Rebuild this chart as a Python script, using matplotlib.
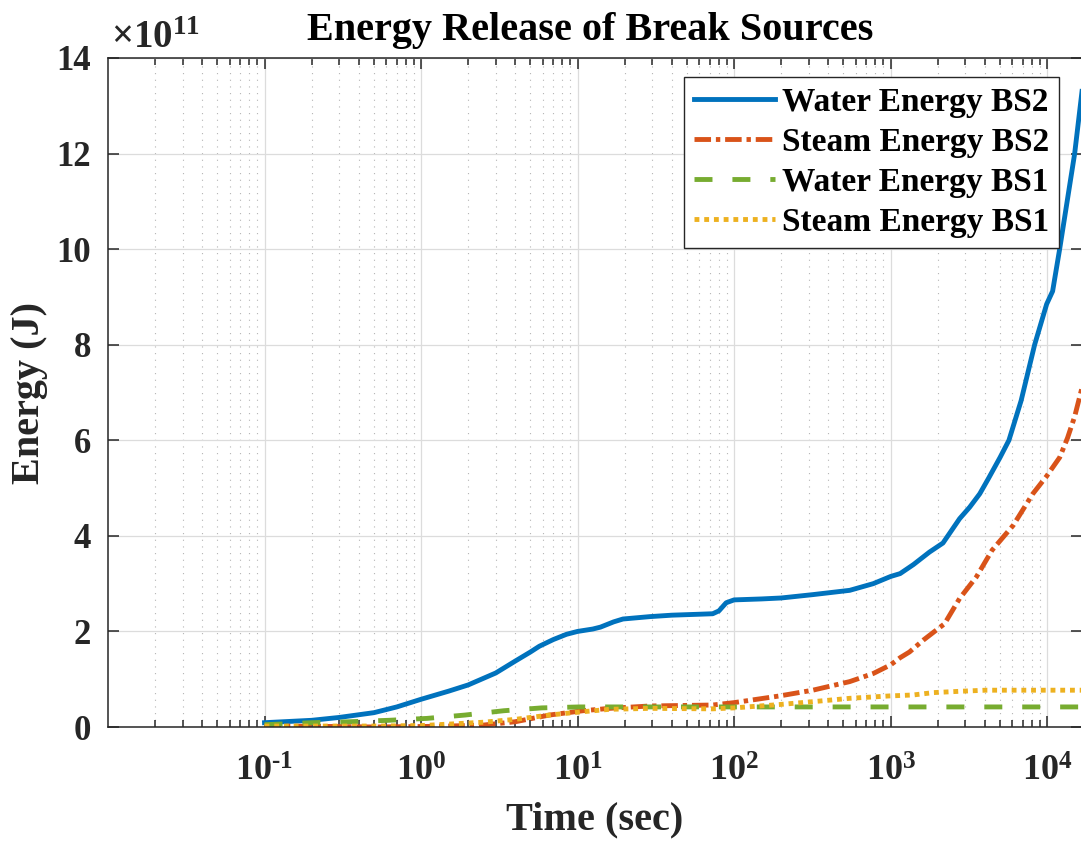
import numpy as np
import matplotlib
matplotlib.use("Agg")
import matplotlib.pyplot as plt
from matplotlib.ticker import FixedLocator, FuncFormatter, NullFormatter

# Energy released by the break sources (energy in units of 1e11 J, time in s)
t_water_bs2 = [0.1, 0.2, 0.3, 0.5, 0.7, 1.0, 1.5, 2.0, 3.0, 4.0, 5.0, 5.7, 7.0, 8.5,
               10, 12.5, 14, 17, 19.5, 29, 40, 60, 73, 80, 89, 100, 150, 200, 318,
               548, 775, 1000, 1150, 1400, 1770, 2160, 2760, 3200, 3710, 4200, 5000,
               5700, 6820, 8320, 9930, 10840, 12020, 14990, 16700]
e_water_bs2 = [0.09, 0.14, 0.20, 0.30, 0.42, 0.58, 0.75, 0.88, 1.13, 1.38, 1.57, 1.69,
               1.83, 1.94, 2.00, 2.05, 2.09, 2.20, 2.26, 2.31, 2.34, 2.36, 2.37, 2.43,
               2.60, 2.66, 2.68, 2.70, 2.77, 2.86, 3.00, 3.15, 3.21, 3.40, 3.66, 3.85,
               4.36, 4.60, 4.88, 5.19, 5.64, 6.00, 6.83, 8.00, 8.85, 9.12, 10.0, 12.0,
               13.3]

t_steam_bs2 = [0.1, 0.3, 0.5, 1.0, 1.5, 2.5, 4.0, 6.6, 10.8, 16, 29, 73, 100, 195, 318,
               548, 775, 1000, 1150, 1320, 1620, 2210, 2760, 3530, 4450, 6070, 8100,
               9930, 10840, 12020, 13500, 15000, 16700]
e_steam_bs2 = [0.02, 0.01, 0.0, 0.01, 0.02, 0.04, 0.11, 0.25, 0.34, 0.39, 0.44, 0.46,
               0.51, 0.65, 0.77, 0.95, 1.12, 1.30, 1.45, 1.57, 1.82, 2.16, 2.69, 3.14,
               3.70, 4.22, 4.88, 5.25, 5.43, 5.64, 6.05, 6.50, 7.10]

t_water_bs1 = [0.1, 0.114, 0.2, 0.35, 0.62, 1.09, 1.91, 3.37, 5.9, 10.3, 100, 1000, 16700]
e_water_bs1 = [0.05, 0.055, 0.09, 0.11, 0.14, 0.18, 0.25, 0.34, 0.40, 0.42, 0.42, 0.42,
               0.42]

t_steam_bs1 = [0.1, 0.5, 1.0, 1.5, 2.5, 4.0, 6.6, 10.8, 16, 29, 73, 100, 195, 318, 548,
               980, 1390, 1880, 2890, 4040, 16700]
e_steam_bs1 = [0.02, 0.02, 0.03, 0.06, 0.10, 0.16, 0.25, 0.32, 0.37, 0.39, 0.38, 0.40,
               0.47, 0.53, 0.60, 0.65, 0.67, 0.72, 0.75, 0.77, 0.77]

labels = ["Water Energy BS2", "Steam Energy BS2", "Water Energy BS1", "Steam Energy BS1"]
colors = ["#0072BD", "#D95319", "#77AC30", "#EDB120"]

x_major = [1e-1, 1e0, 1e1, 1e2, 1e3, 1e4]
y_major = [0, 2, 4, 6, 8, 10, 12, 14]

plt.rcParams.update({
    "font.family": "Liberation Serif",
    "font.weight": "bold",
    "mathtext.fontset": "custom",
    "mathtext.rm": "Liberation Serif:bold",
    "mathtext.it": "Liberation Serif:italic:bold",
    "mathtext.bf": "Liberation Serif:bold",
    "axes.unicode_minus": False,
})

W, H = 1081, 843
fig = plt.figure(figsize=(W / 100, H / 100), dpi=100)
left, right, top, bottom = 108, 1082, 58, 727
ax = fig.add_axes([left / W, 1 - bottom / H, (right - left) / W, (bottom - top) / H])

lw = 3.5
ax.plot(t_water_bs2, e_water_bs2, color=colors[0], lw=lw, ls="-", label=labels[0],
        solid_joinstyle="round")
ax.plot(t_steam_bs2, e_steam_bs2, color=colors[1], lw=lw, ls=(0, (3.4, 1.0, 0.9, 1.0)),
        label=labels[1])
ax.plot(t_water_bs1, e_water_bs1, color=colors[2], lw=lw, ls=(0, (3.7, 4.1)),
        label=labels[2])
ax.plot(t_steam_bs1, e_steam_bs1, color=colors[3], lw=lw, ls=(0, (1.0, 1.0)),
        label=labels[3])

ax.set_xscale("log")
ax.set_xlim(1e-2, 1.67e4)
ax.set_ylim(0, 14)

ax.xaxis.set_major_locator(FixedLocator(x_major))
minor = [k * 10.0 ** d for d in range(-2, 5) for k in range(2, 10)]
ax.xaxis.set_minor_locator(FixedLocator(minor))
ax.xaxis.set_minor_formatter(NullFormatter())


def dec_label(v, pos):
    p = int(round(np.log10(v)))
    if p < 0:
        return r"$\mathdefault{10^{\text{-}%d}}$" % (-p)
    return r"$\mathdefault{10^{%d}}$" % p


ax.xaxis.set_major_formatter(FuncFormatter(dec_label))
ax.yaxis.set_major_locator(FixedLocator(y_major))
ax.yaxis.set_major_formatter(FuncFormatter(lambda v, p: "%d" % v))

ax.tick_params(which="both", direction="in", top=True, right=True,
               color="#262626", width=1.1, labelcolor="#262626")
ax.tick_params(axis="y", labelsize=25)
ax.tick_params(axis="x", labelsize=26)
ax.tick_params(which="major", length=8)
ax.tick_params(which="minor", length=5)
ax.tick_params(axis="x", which="major", pad=21)
ax.tick_params(axis="y", which="major", pad=12)

for s in ax.spines.values():
    s.set_color("#262626")
    s.set_linewidth(1.1)

ax.set_axisbelow(True)
ax.grid(which="major", color="#dcdcdc", lw=0.9, ls="-")
ax.grid(which="minor", axis="x", color="#b4b4b4", lw=0.8, ls=(0, (1, 5)))

ax.set_xlabel("Time (sec)", fontsize=29, fontweight="bold", color="#262626",
              va="baseline")
ax.xaxis.set_label_coords(0.5, (bottom - 829) / (bottom - top))
ax.set_ylabel("Energy (J)", fontsize=29, fontweight="bold", color="#262626",
              va="center")
ax.yaxis.set_label_coords((30 - left) / (right - left), 0.5)

ax.text(0.495, (bottom - 40) / (bottom - top), "Energy Release of Break Sources",
        transform=ax.transAxes, ha="center", va="baseline", fontsize=29,
        fontweight="bold", color="black")

fig.text(111 / W, 1 - 48 / H, "\u00d7" + r"$\mathdefault{10^{11}}$", ha="left",
         va="baseline", fontsize=28, color="#262626")

leg = ax.legend(loc="upper right",
                bbox_to_anchor=((1059 - left) / (right - left), (bottom - 77) / (bottom - top)),
                borderaxespad=0, fontsize=24, frameon=True, fancybox=False,
                framealpha=1, edgecolor="#262626", handlelength=2.45,
                handletextpad=0.2, borderpad=0.3, labelspacing=0.27)
leg.get_frame().set_linewidth(1.0)
for t in leg.get_texts():
    t.set_fontweight("bold")
    t.set_color("black")

fig.savefig("out.png", dpi=100)
